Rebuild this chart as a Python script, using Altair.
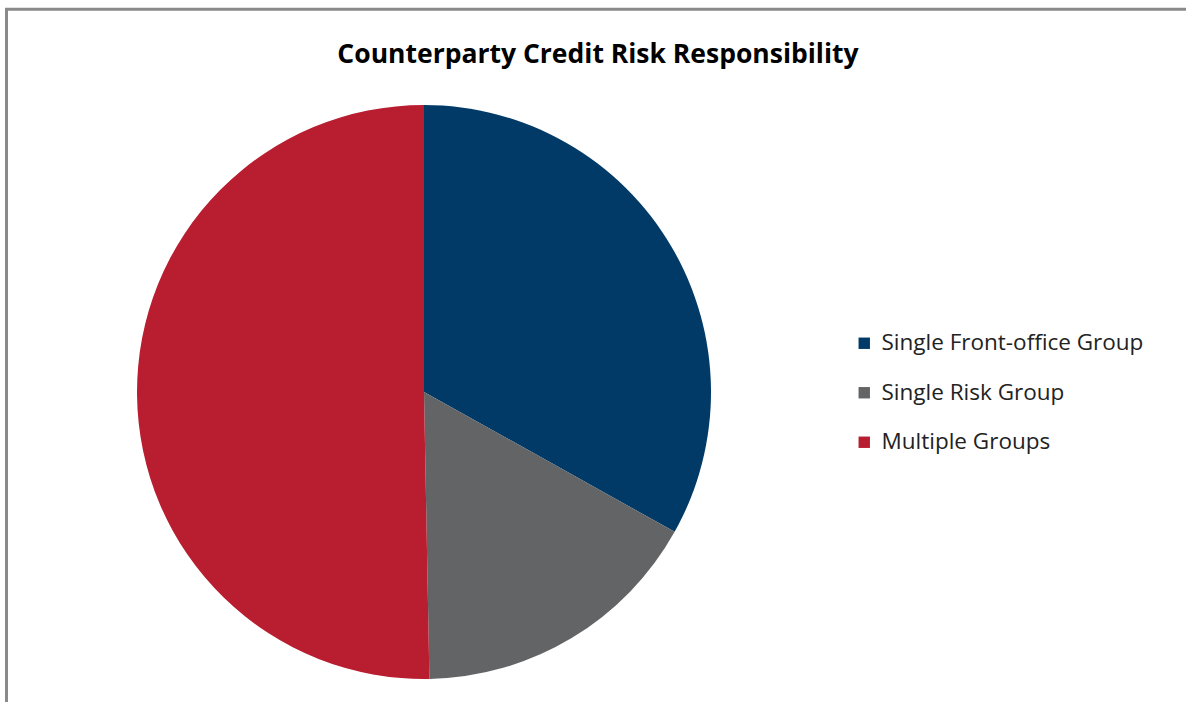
import altair as alt
import pandas as pd

title_text = "Counterparty Credit Risk Responsibility"
categories = ["Single Front-office Group", "Single Risk Group", "Multiple Groups"]
shares = [33.1, 16.6, 50.3]
colors = ["#013A67", "#636466", "#B81E2F"]

df = pd.DataFrame({"category": categories, "share": shares, "order": list(range(len(categories)))})

pie = alt.Chart(df).mark_arc(outerRadius=287, stroke=None).encode(
    theta=alt.Theta("share:Q", stack=True),
    order=alt.Order("order:Q"),
    color=alt.Color(
        "category:N",
        scale=alt.Scale(domain=categories, range=colors),
        sort=categories,
        legend=alt.Legend(
            title=None,
            orient="none",
            legendX=853,
            legendY=332,
            symbolType="square",
            symbolSize=130,
            symbolStrokeWidth=0,
            labelFont="Open Sans",
            labelFontSize=22.5,
            labelColor="#222222",
            labelOffset=6,
            rowPadding=26.5,
            labelLimit=400,
        ),
    ),
    x=alt.value(424),
    y=alt.value(392),
)

title = alt.Chart(pd.DataFrame({"t": [title_text]})).mark_text(
    font="Open Sans", fontSize=26.5, fontWeight="bold", color="#000000", align="center", baseline="alphabetic"
).encode(text="t:N", x=alt.value(598), y=alt.value(63))

left_line = alt.Chart(pd.DataFrame({"a": [0]})).mark_rule(color="#8a8a8a", strokeWidth=3).encode(
    x=alt.value(6.5), y=alt.value(8), y2=alt.value(702)
)
top_line = alt.Chart(pd.DataFrame({"a": [0]})).mark_rule(color="#8a8a8a", strokeWidth=3).encode(
    x=alt.value(5), x2=alt.value(1186), y=alt.value(9.3)
)

chart = alt.layer(pie, title, left_line, top_line).properties(
    width=1186, height=702, autosize=alt.AutoSizeParams(type="none"), padding=0, background="#ffffff"
).configure_view(stroke=None)

chart.save("out.html", embed_options={"renderer": "svg", "actions": False})
